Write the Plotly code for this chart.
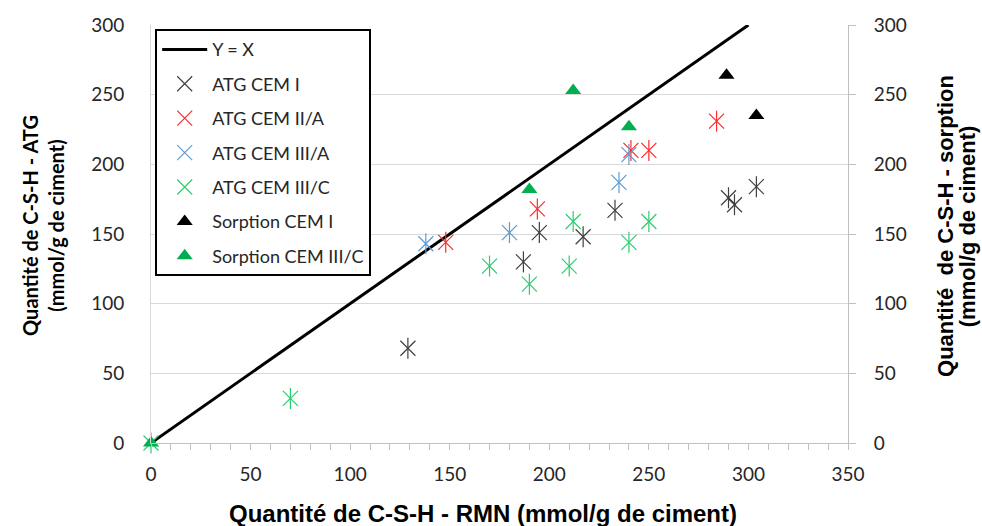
import plotly.graph_objects as go

# Values
yx_x = [0, 300]
yx_y = [0, 300]

atg_cem1_x = [129, 187, 195, 217, 233, 290, 293, 304]
atg_cem1_y = [68, 130, 151, 148, 167, 176, 171, 184]

atg_cem2a_x = [148, 194, 241, 250, 284]
atg_cem2a_y = [144, 168, 210, 210, 231]

atg_cem3a_x = [138, 180, 235, 240]
atg_cem3a_y = [143, 151, 187, 207]

atg_cem3c_x = [0, 70, 170, 190, 210, 212, 240, 250]
atg_cem3c_y = [0, 32, 127, 114, 127, 159, 144, 159]

sorp_cem1_x = [289, 304]
sorp_cem1_y = [264, 235]

sorp_cem3c_x = [0, 190, 212, 240]
sorp_cem3c_y = [0, 182, 253, 227]

x_ticks = [0, 50, 100, 150, 200, 250, 300, 350]
y_ticks = [0, 50, 100, 150, 200, 250, 300]

tick_font = dict(family="Lato, Open Sans, sans-serif", size=19, color="#262626")

fig = go.Figure()

# Y = X reference line
fig.add_trace(go.Scatter(x=yx_x, y=yx_y, mode="lines", name="Y = X",
                         legendgroup="yx", line=dict(color="black", width=3)))


def add_star(xs, ys, name, color, group):
    # Excel-like star marker: an X plus a vertical bar
    fig.add_trace(go.Scatter(x=xs, y=ys, mode="markers", name=name, legendgroup=group,
                             cliponaxis=False,
                             marker=dict(symbol="x-thin-open", size=15, color=color,
                                         line=dict(color=color, width=1.2))))
    fig.add_trace(go.Scatter(x=xs, y=ys, mode="markers", name=name, legendgroup=group,
                             showlegend=False, cliponaxis=False, hoverinfo="skip",
                             marker=dict(symbol="line-ns-open", size=15, color=color,
                                         line=dict(color=color, width=1.2))))


add_star(atg_cem1_x, atg_cem1_y, "ATG CEM I", "#404040", "c1")
add_star(atg_cem2a_x, atg_cem2a_y, "ATG CEM II/A", "#ff2a2a", "c2")
add_star(atg_cem3a_x, atg_cem3a_y, "ATG CEM III/A", "#5b9bd5", "c3")
add_star(atg_cem3c_x, atg_cem3c_y, "ATG CEM III/C", "#2ecc71", "c4")

fig.add_trace(go.Scatter(x=sorp_cem1_x, y=sorp_cem1_y, mode="markers", name="Sorption CEM I",
                         legendgroup="s1", yaxis="y2", cliponaxis=False,
                         marker=dict(symbol="triangle-up", size=14, color="black")))
fig.add_trace(go.Scatter(x=sorp_cem3c_x, y=sorp_cem3c_y, mode="markers", name="Sorption CEM III/C",
                         legendgroup="s2", yaxis="y2", cliponaxis=False,
                         marker=dict(symbol="triangle-up", size=14, color="#00b050")))

right_font = dict(family="Liberation Sans, Arial, sans-serif", size=22, color="black")

fig.update_layout(
    width=982, height=526,
    margin=dict(l=151, r=134, t=25, b=83),
    plot_bgcolor="white", paper_bgcolor="white",
    showlegend=True,
    legend=dict(x=0.006, y=0.99, xanchor="left", yanchor="top",
                bgcolor="white", bordercolor="black", borderwidth=2,
                font=dict(family="Lato, Open Sans, sans-serif", size=18, color="#262626"),
                tracegroupgap=8, itemwidth=45),
    xaxis=dict(range=[0, 350], tickvals=x_ticks, showgrid=False, zeroline=False,
               showline=True, linecolor="#bfbfbf", linewidth=1,
               ticks="outside", ticklen=6, tickcolor="#bfbfbf",
               minor=dict(dtick=10, ticks="outside", ticklen=6, tickcolor="#bfbfbf"),
               tickfont=tick_font, ticklabelstandoff=8),
    yaxis=dict(range=[0, 300], tickvals=y_ticks, showgrid=True, gridcolor="#d9d9d9",
               zeroline=False, showline=True, linecolor="#d9d9d9", linewidth=1,
               ticks="", tickfont=tick_font, ticklabelstandoff=22),
    yaxis2=dict(range=[0, 300], tickvals=y_ticks, overlaying="y", side="right",
                showgrid=False, zeroline=False, showline=True, linecolor="#bfbfbf",
                ticks="outside", ticklen=7, tickcolor="#bfbfbf",
                tickfont=tick_font, ticklabelstandoff=14),
    annotations=[
        dict(text="<b>Quantité de C-S-H - ATG<br>(mmol/g de ciment)</b>", xref="paper", yref="paper",
             x=-0.156, y=0.52, xanchor="center", yanchor="middle", textangle=-90, showarrow=False,
             font=dict(family="Lato, Liberation Sans, sans-serif", size=20, color="black")),
        dict(text="<b>Quantité  de C-S-H - sorption</b>", xref="paper", yref="paper",
             x=1.139, y=0.519, xanchor="center", yanchor="middle", textangle=-90, showarrow=False,
             font=right_font),
        dict(text="<b>(mmol/g de ciment)</b>", xref="paper", yref="paper",
             x=1.171, y=0.519, xanchor="center", yanchor="middle", textangle=-90, showarrow=False,
             font=right_font),
        dict(text="<b>Quantité de C-S-H - RMN (mmol/g de ciment)</b>", xref="paper", yref="paper",
             x=0.476, y=-0.168, xanchor="center", yanchor="middle", showarrow=False,
             font=dict(family="Liberation Sans, Arial, sans-serif", size=24, color="black")),
    ],
)

# remove the default page margin so the figure sits at the window's top-left corner
fig.write_html("out.html", config={"displayModeBar": False},
               post_script="document.body.style.margin='0';")
